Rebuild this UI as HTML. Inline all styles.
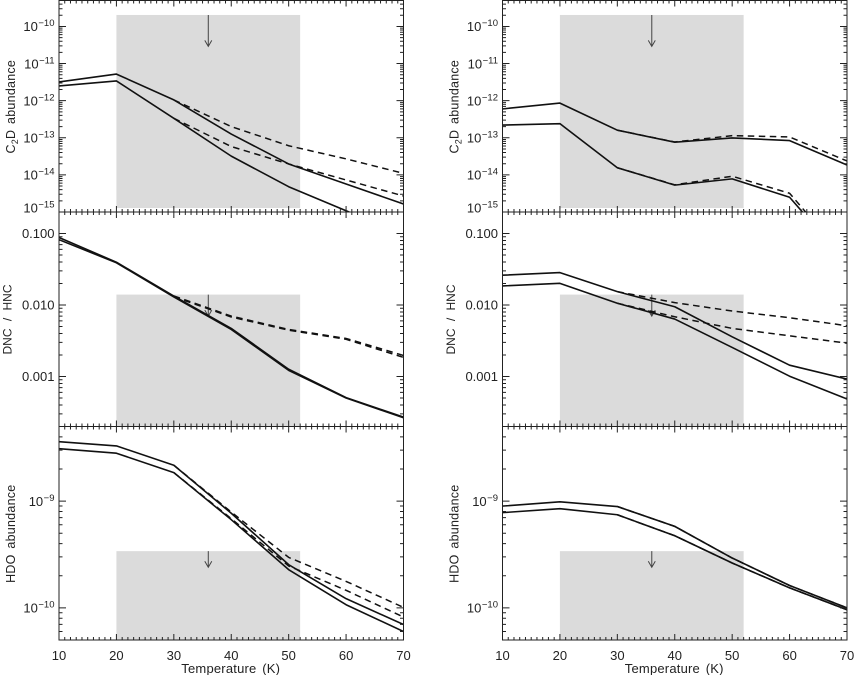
<!DOCTYPE html>
<html lang="en">
<head>
<meta charset="utf-8">
<title>Abundance versus temperature</title>
<style>
html,body{margin:0;padding:0;background:#fff;}
svg{display:block;}
text{font-family:"Liberation Sans",sans-serif;fill:#222;}
</style>
</head>
<body>
<svg id="chart" xmlns="http://www.w3.org/2000/svg" width="854" height="675" viewBox="0 0 854 675">
<rect width="854" height="675" fill="#fff"/>
</svg>
<script>
// ---- Data ----
const temperatures = [10, 20, 30, 40, 50, 60, 70];
const dashedTemperatures = [30, 40, 50, 60, 70];
const xTickLabels = [10, 20, 30, 40, 50, 60, 70];

const c2dLeftSolidUpper = [3.2e-12, 5.2e-12, 1.05e-12, 1.26e-13, 1.97e-14, 5.7e-15, 1.64e-15];
const c2dLeftSolidLower = [2.5e-12, 3.4e-12, 3.35e-13, 3.2e-14, 4.8e-15, 1.08e-15, 2.4e-16];
const c2dLeftDashedUpper = [1.05e-12, 2.0e-13, 6.1e-14, 2.7e-14, 1.1e-14];
const c2dLeftDashedLower = [3.35e-13, 5.8e-14, 1.97e-14, 7.3e-15, 2.7e-15];

const c2dRightSolidUpper = [6e-13, 8.6e-13, 1.6e-13, 7.6e-14, 9.9e-14, 8.4e-14, 1.85e-14];
const c2dRightSolidLower = [2.2e-13, 2.4e-13, 1.56e-14, 5.3e-15, 7.8e-15, 2.5e-15, 4.2e-17];
const c2dRightDashedUpper = [1.6e-13, 7.7e-14, 1.14e-13, 1.05e-13, 2.37e-14];
const c2dRightDashedLower = [1.56e-14, 5.4e-15, 9.2e-15, 3.2e-15, 5e-17];

const dncLeftSolidUpper = [0.088, 0.0397, 0.01337, 0.00471, 0.001265, 0.000507, 0.000271];
const dncLeftSolidLower = [0.082, 0.0390, 0.0130, 0.00455, 0.00122, 0.00050, 0.000265];
const dncLeftDashedUpper = [0.0134, 0.00700, 0.00455, 0.00341, 0.00197];
const dncLeftDashedLower = [0.0131, 0.00680, 0.00445, 0.00332, 0.00185];

const dncRightSolidUpper = [0.0261, 0.0284, 0.0154, 0.00946, 0.00359, 0.00144, 0.00092];
const dncRightSolidLower = [0.0185, 0.0201, 0.0106, 0.00636, 0.00255, 0.00101, 0.000485];
const dncRightDashedUpper = [0.0154, 0.0108, 0.00824, 0.00664, 0.00513];
const dncRightDashedLower = [0.0106, 0.00685, 0.00471, 0.00371, 0.00293];

const hdoLeftSolidUpper = [3.6e-9, 3.29e-9, 2.17e-9, 7.7e-10, 2.54e-10, 1.22e-10, 6.98e-11];
const hdoLeftSolidLower = [3.1e-9, 2.81e-9, 1.85e-9, 6.7e-10, 2.28e-10, 1.07e-10, 6.0e-11];
const hdoLeftDashedUpper = [2.17e-9, 7.9e-10, 2.97e-10, 1.77e-10, 1.01e-10];
const hdoLeftDashedLower = [1.85e-9, 6.85e-10, 2.47e-10, 1.46e-10, 8.2e-11];

const hdoRightSolidUpper = [8.98e-10, 9.85e-10, 8.9e-10, 5.8e-10, 2.93e-10, 1.62e-10, 1.0e-10];
const hdoRightSolidLower = [7.8e-10, 8.5e-10, 7.45e-10, 4.74e-10, 2.63e-10, 1.54e-10, 9.6e-11];
const hdoRightDashedUpper = [8.9e-10, 5.8e-10, 2.93e-10, 1.62e-10, 1.0e-10];
const hdoRightDashedLower = [7.45e-10, 4.74e-10, 2.63e-10, 1.54e-10, 9.6e-11];

const c2dTickValues = [1e-10, 1e-11, 1e-12, 1e-13, 1e-14, 1e-15];
const c2dTickExponents = ["−10", "−11", "−12", "−13", "−14", "−15"];
const dncTickValues = [0.1, 0.01, 0.001];
const dncTickLabels = ["0.100", "0.010", "0.001"];
const hdoTickValues = [1e-9, 1e-10];
const hdoTickExponents = ["−9", "−10"];

const shadeTemperatureRange = [20, 52];
const arrowTemperature = 36;
const c2dShadeRange = [1.28e-15, 2.04e-10];
const dncShadeRange = [2e-4, 0.014];
const hdoShadeRange = [5e-11, 3.4e-10];
const c2dArrowEnd = 2.9e-11;
const dncArrowEnd = 0.0070;
const hdoArrowEnd = 2.4e-10;

const xDomain = [10, 70];
const c2dDomain = [1e-15, 5e-10];
const dncDomain = [2e-4, 0.2];
const hdoDomain = [5e-11, 5e-9];

// ---- Drawing ----
const NS = 'http://www.w3.org/2000/svg';
const svg = document.getElementById('chart');
function make(tag, attrs, parent) {
  const el = document.createElementNS(NS, tag);
  for (const k in attrs) el.setAttribute(k, attrs[k]);
  (parent || svg).appendChild(el);
  return el;
}
const columns = [
  {key: 'left', x0: 59, x1: 403.5},
  {key: 'right', x0: 502.5, x1: 847}
];
const rows = [
  {key: 'c2d', y0: 0.5, y1: 212, titleY: 106.7, titleOffset: 44, domain: c2dDomain, ticks: c2dTickValues, exps: c2dTickExponents, shade: c2dShadeRange, arrowEnd: c2dArrowEnd,
   series: [[c2dLeftSolidUpper, c2dLeftSolidLower, c2dLeftDashedUpper, c2dLeftDashedLower], [c2dRightSolidUpper, c2dRightSolidLower, c2dRightDashedUpper, c2dRightDashedLower]]},
  {key: 'dnc', y0: 212, y1: 426.5, titleY: 319.5, titleOffset: 47.5, domain: dncDomain, ticks: dncTickValues, labels: dncTickLabels, shade: dncShadeRange, arrowEnd: dncArrowEnd,
   series: [[dncLeftSolidUpper, dncLeftSolidLower, dncLeftDashedUpper, dncLeftDashedLower], [dncRightSolidUpper, dncRightSolidLower, dncRightDashedUpper, dncRightDashedLower]]},
  {key: 'hdo', y0: 426.5, y1: 640, titleY: 533.7, titleOffset: 44, domain: hdoDomain, ticks: hdoTickValues, exps: hdoTickExponents, shade: hdoShadeRange, arrowEnd: hdoArrowEnd,
   series: [[hdoLeftSolidUpper, hdoLeftSolidLower, hdoLeftDashedUpper, hdoLeftDashedLower], [hdoRightSolidUpper, hdoRightSolidLower, hdoRightDashedUpper, hdoRightDashedLower]]}
];
const AXIS = '#222';

function pathFrom(xs, ys, xScale, yScale) {
  return xs.map((t, i) => (i ? 'L' : 'M') + xScale(t).toFixed(2) + ' ' + yScale(ys[i]).toFixed(2)).join(' ');
}

rows.forEach(function (row, r) {
  columns.forEach(function (col, c) {
    const xScale = t => col.x0 + (t - xDomain[0]) / (xDomain[1] - xDomain[0]) * (col.x1 - col.x0);
    const lmin = Math.log10(row.domain[0]), lmax = Math.log10(row.domain[1]);
    const yScale = v => row.y1 - (Math.log10(v) - lmin) / (lmax - lmin) * (row.y1 - row.y0);
    const panelId = row.key + '-' + col.key;

    const g = make('g', {});
    
    

    const clip = make('clipPath', {id: 'clip-' + panelId}, g);
    make('rect', {x: col.x0, y: row.y0, width: col.x1 - col.x0, height: row.y1 - row.y0}, clip);

    // shaded band
    const band = make('rect', {
      x: xScale(shadeTemperatureRange[0]),
      y: yScale(row.shade[1]),
      width: xScale(shadeTemperatureRange[1]) - xScale(shadeTemperatureRange[0]),
      height: yScale(row.shade[0]) - yScale(row.shade[1]),
      fill: '#dbdbdb'
    }, g);
    
    

    // upper-limit arrow
    const ax = xScale(arrowTemperature), ay0 = yScale(row.shade[1]), ay1 = yScale(row.arrowEnd);
    const arrow = make('path', {
      d: 'M' + ax + ' ' + ay0 + ' L' + ax + ' ' + ay1 + ' M' + (ax - 3.5) + ' ' + (ay1 - 6) + ' L' + ax + ' ' + ay1 + ' L' + (ax + 3.5) + ' ' + (ay1 - 6),
      fill: 'none', stroke: '#444', 'stroke-width': 1
    }, g);
    
    

    // series
    const set = row.series[c];
    const lines = make('g', {'clip-path': 'url(#clip-' + panelId + ')'}, g);
    [2, 3].forEach(function (i) {
      const dashed = make('path', {
        d: pathFrom(dashedTemperatures, set[i], xScale, yScale),
        fill: 'none', stroke: '#111', 'stroke-width': 1.5, 'stroke-dasharray': '6.5 4.5'
      }, lines);
      
      
    });
    [0, 1].forEach(function (i) {
      const solid = make('path', {
        d: pathFrom(temperatures, set[i], xScale, yScale),
        fill: 'none', stroke: '#111', 'stroke-width': 1.6, 'stroke-linejoin': 'round'
      }, lines);
      
      
    });

    // axes frame and ticks
    let d = 'M' + col.x0 + ' ' + row.y0 + 'H' + col.x1 + 'V' + row.y1 + 'H' + col.x0 + 'Z';
    for (let t = xDomain[0]; t <= xDomain[1]; t++) {
      const px = xScale(t).toFixed(2), len = t % 10 === 0 ? 6 : 3;
      d += 'M' + px + ' ' + row.y1 + 'v-' + len + 'M' + px + ' ' + row.y0 + 'v' + len;
    }
    const firstDecade = Math.floor(lmin), lastDecade = Math.ceil(lmax);
    for (let e = firstDecade; e <= lastDecade; e++) {
      for (let m = 1; m < 10; m++) {
        const v = m * Math.pow(10, e);
        if (v < row.domain[0] * 0.999 || v > row.domain[1] * 1.001) continue;
        const py = yScale(v).toFixed(2), len = m === 1 ? 7 : 3.5;
        d += 'M' + col.x0 + ' ' + py + 'h' + len + 'M' + col.x1 + ' ' + py + 'h-' + len;
      }
    }
    const frame = make('path', {d: d, fill: 'none', stroke: AXIS, 'stroke-width': 1}, g);
    
    

    // y tick labels
    row.ticks.forEach(function (v, i) {
      let py = yScale(v) + 4.7;
      if (v === 1e-15) py -= 4;
      const label = make('text', {x: col.x0 - 4.5, y: py.toFixed(2), 'text-anchor': 'end', 'font-size': 13}, g);
      
      
      if (row.labels) {
        label.textContent = row.labels[i];
      } else {
        const base = make('tspan', {}, label);
        base.textContent = '10';
        const sup = make('tspan', {dy: -5, 'font-size': 9.5, dx: 0.5}, label);
        sup.textContent = row.exps[i];
      }
    });

    // y axis title
    const title = make('text', {
      x: 0, y: 0, 'text-anchor': 'middle', 'font-size': 12.5, 'letter-spacing': '0.25',
      transform: 'translate(' + (col.x0 - row.titleOffset) + ' ' + row.titleY + ') rotate(-90)', 'word-spacing': '2'
    }, g);
    
    
    if (row.key === 'c2d') {
      make('tspan', {}, title).textContent = 'C';
      make('tspan', {dy: 3, 'font-size': 9}, title).textContent = '2';
      make('tspan', {dy: -3}, title).textContent = 'D abundance';
    } else if (row.key === 'dnc') {
      title.setAttribute('font-size', '12');
      title.setAttribute('letter-spacing', '0');
      title.setAttribute('word-spacing', '4');
      title.textContent = 'DNC / HNC';
    } else {
      title.textContent = 'HDO abundance';
    }

    // x tick labels and title on the bottom row
    if (row.key === 'hdo') {
      xTickLabels.forEach(function (t) {
        const xl = make('text', {x: xScale(t), y: 660, 'text-anchor': 'middle', 'font-size': 13}, g);
        
        
        xl.textContent = t;
      });
      const xt = make('text', {x: (col.x0 + col.x1) / 2 - 0.5, y: 673, 'text-anchor': 'middle', 'font-size': 13, 'letter-spacing': '0.2', 'word-spacing': '2'}, g);
      
      
      xt.textContent = 'Temperature (K)';
    }
  });
});
</script>
</body>
</html>
